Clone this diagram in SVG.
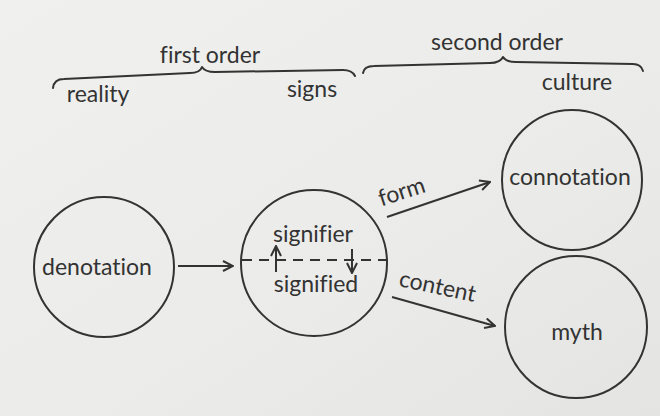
<svg xmlns="http://www.w3.org/2000/svg" width="660" height="416" viewBox="0 0 660 416">
<defs>
<linearGradient id="bg" x1="0" y1="0" x2="1" y2="1">
<stop offset="0" stop-color="#f0f0ee"/>
<stop offset="0.6" stop-color="#ebebe9"/>
<stop offset="1" stop-color="#e4e4e2"/>
</linearGradient>
<marker id="arr" viewBox="0 0 12 12" refX="11" refY="6" markerWidth="12" markerHeight="12" markerUnits="userSpaceOnUse" orient="auto">
<path d="M1,1 L11,6 L1,11" fill="none" stroke="#333" stroke-width="2"/>
</marker>
</defs>
<style>
text{font-family:Lato,"Open Sans","Liberation Sans",sans-serif;fill:#333;font-size:23px;font-variant-ligatures:none}
.c{fill:none;stroke:#333;stroke-width:2}
.l{fill:none;stroke:#333;stroke-width:2}
.b{fill:none;stroke:#333;stroke-width:2;stroke-linecap:round;stroke-linejoin:round}
</style>
<rect width="660" height="416" fill="url(#bg)"/>
<g id="labels">
<text x="210" y="63" text-anchor="middle">first order</text>
<text x="497" y="50" text-anchor="middle">second order</text>
<text x="98" y="102" text-anchor="middle">reality</text>
<text x="312" y="97" text-anchor="middle">signs</text>
<text x="577" y="90" text-anchor="middle">culture</text>
</g>
<g id="braces">
<path class="b" d="M53,88 Q54,79 64,79 L190,73 Q200,73 202,67 Q205,72 215,72 L343,70 Q352,70 355,76"/>
<path class="b" d="M363,73 Q364,66 374,66 L490,63 Q500,63 503,57 Q506,62 516,62 L633,64 Q641,64 643,71"/>
</g>
<g id="denotation">
<circle class="c" cx="104" cy="267" r="70"/>
<text x="97" y="275" text-anchor="middle">denotation</text>
</g>
<g id="signs">
<circle class="c" cx="314" cy="263" r="73"/>
<text x="313" y="242" text-anchor="middle">signifier</text>
<text x="316" y="292" text-anchor="middle">signified</text>
<line class="l" x1="242" y1="260" x2="388" y2="260" stroke-dasharray="10,7"/>
<line class="l" x1="276" y1="272" x2="276" y2="246" marker-end="url(#arr)"/>
<line class="l" x1="352" y1="249" x2="352" y2="273" marker-end="url(#arr)"/>
</g>
<g id="connotation">
<circle class="c" cx="572" cy="180" r="70"/>
<text x="570" y="185" text-anchor="middle">connotation</text>
</g>
<g id="myth">
<circle class="c" cx="576" cy="327" r="71"/>
<text x="577" y="340" text-anchor="middle">myth</text>
</g>
<g id="connectors">
<line class="l" x1="178" y1="266" x2="233" y2="266" marker-end="url(#arr)"/>
<line class="l" x1="387" y1="217" x2="490" y2="182" marker-end="url(#arr)"/>
<text x="404" y="199" text-anchor="middle" transform="rotate(-18 404 199)">form</text>
<line class="l" x1="392" y1="297" x2="495" y2="326" marker-end="url(#arr)"/>
<text x="436" y="294" text-anchor="middle" transform="rotate(12 436 294)">content</text>
</g>
</svg>
